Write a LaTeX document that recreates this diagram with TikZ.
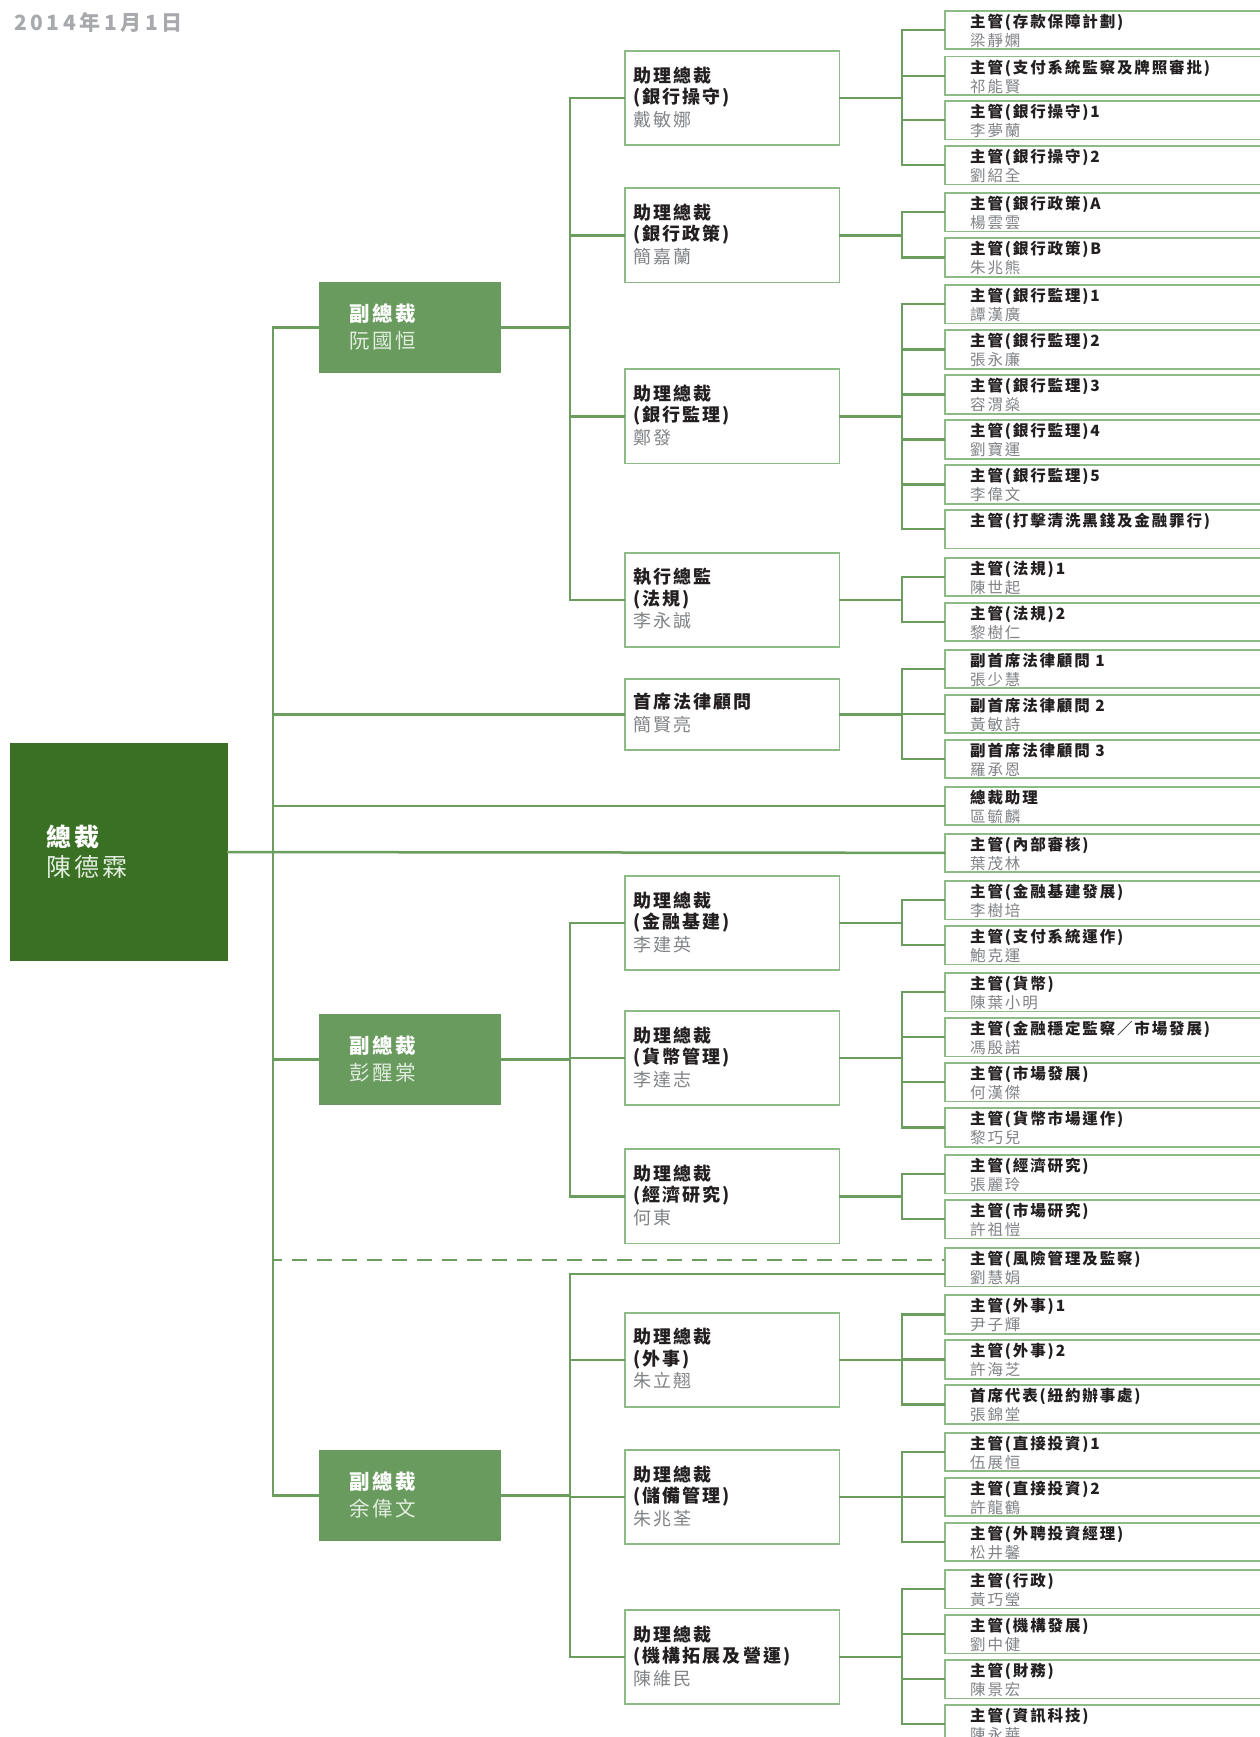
\documentclass[tikz,border=0pt]{standalone}
\usepackage{fontspec}
\setmainfont{Noto Sans CJK TC}[LetterSpace=12]
\newfontfamily\datefont{Noto Sans CJK TC}[LetterSpace=17]
\usetikzlibrary{calc}
\definecolor{lnc}{HTML}{6A9D5E}
\definecolor{bxc}{HTML}{8DBB85}
\definecolor{vpc}{HTML}{699B5F}
\definecolor{prc}{HTML}{3A7023}
\definecolor{tc}{HTML}{231F20}
\definecolor{nc}{HTML}{808285}
\definecolor{dc}{HTML}{A7A9AC}
\definecolor{vpnc}{HTML}{E3EDE0}
\newcommand{\FS}[1]{\fontsize{#1}{#1}\selectfont}
\tikzset{
  conn/.style={draw=lnc, line width=2.5pt, line cap=rect},
  dconn/.style={draw=lnc, line width=2.5pt, line cap=butt, dash pattern=on 15pt off 10pt, dash phase=6.3pt},
  rbox/.style={draw=bxc, line width=1.8pt, anchor=north west, minimum width=420pt, minimum height=38.5pt, inner sep=0pt},
  apbox/.style={draw=bxc, line width=1.8pt, anchor=north west, minimum width=214.6pt, inner sep=0pt},
  vpbox/.style={fill=vpc, anchor=north west, minimum width=182pt, minimum height=90.7pt, inner sep=0pt},
  prbox/.style={fill=prc, anchor=north west, minimum width=218.4pt, minimum height=217.7pt, inner sep=0pt},
  rt/.style={anchor=base west, inner sep=0pt, text=tc, font=\bfseries\FS{15.5}},
  rn/.style={anchor=base west, inner sep=0pt, text=nc, font=\FS{15.5}},
  aptitle/.style={anchor=base west, inner sep=0pt, text=tc, font=\bfseries\FS{18}},
  apname/.style={anchor=base west, inner sep=0pt, text=nc, font=\FS{18}},
  vptitle/.style={anchor=base west, inner sep=0pt, text=white, font=\bfseries\FS{20.5}},
  vpname/.style={anchor=base west, inner sep=0pt, text=vpnc, font=\FS{20.5}},
  prtitle/.style={anchor=base west, inner sep=0pt, text=white, font=\bfseries\FS{25}},
  prname/.style={anchor=base west, inner sep=0pt, text=vpnc, font=\FS{25}},
  datestyle/.style={anchor=base west, inner sep=0pt, text=dc, font=\datefont\bfseries\FS{21}},
}
\newcommand{\RB}[4]{%
  \node[rbox] (#1) at (944,#2) {};
  \node[rt] (#1t) at ($(#1.north west)+(26,17.5)$) {#3};
  \node[rn] (#1n) at ($(#1.north west)+(26,36.5)$) {#4};}
\newcommand{\AP}[5]{%
  \node[apbox, minimum height=94.3pt] (#1) at (624,#2) {};
  \node[aptitle] (#1a) at ($(#1.north west)+(8.8,32)$) {#3};
  \node[aptitle] (#1b) at ($(#1.north west)+(8.8,53.5)$) {#4};
  \node[apname] (#1c) at ($(#1.north west)+(8.8,76)$) {#5};}
\newcommand{\VP}[3]{%
  \node[vpbox] (#1) at (319,#2) {};
  \node[vptitle] (#1a) at ($(#1.north west)+(30,39.5)$) {副總裁};
  \node[vpname] (#1b) at ($(#1.north west)+(30,66)$) {#3};}
\begin{document}
\begin{tikzpicture}[x=1pt,y=-1pt]
\useasboundingbox (0,0) rectangle (1260,1737);
\clip (0,0) rectangle (1260,1737);
\coordinate (tx) at (902,0);
\coordinate (vx) at (570,0);
\coordinate (mx) at (273,0);

\node[datestyle] (date) at (14,30.5) {2014年1月1日};

% president
\node[prbox] (pr) at (9.6,743) {};
\node[prtitle] (pra) at ($(pr.north west)+(37,103)$) {總裁};
\node[prname] (prb) at ($(pr.north west)+(37,133.4)$) {陳德霖};

% vice presidents
\VP{v1}{282}{阮國恒}
\VP{v2}{1014}{彭醒棠}
\VP{v3}{1450}{余偉文}

% second level
\AP{a1}{50}{助理總裁}{(銀行操守)}{戴敏娜}
\AP{a2}{187.3}{助理總裁}{(銀行政策)}{簡嘉蘭}
\AP{a3}{368.3}{助理總裁}{(銀行監理)}{鄭發}
\AP{a4}{551.7}{執行總監}{(法規)}{李永誠}
\node[apbox, minimum height=71.3pt] (a5) at (624,677.7) {};
\node[aptitle] (a5a) at ($(a5.north west)+(8.8,30.5)$) {首席法律顧問};
\node[apname] (a5c) at ($(a5.north west)+(8.8,54)$) {簡賢亮};
\AP{a6}{875}{助理總裁}{(金融基建)}{李建英}
\AP{a7}{1010}{助理總裁}{(貨幣管理)}{李達志}
\AP{a8}{1148.3}{助理總裁}{(經濟研究)}{何東}
\AP{a9}{1311.7}{助理總裁}{(外事)}{朱立翹}
\AP{a10}{1449}{助理總裁}{(儲備管理)}{朱兆荃}
\AP{a11}{1609}{助理總裁}{(機構拓展及營運)}{陳維民}

% right column
\RB{r1}{10}{主管(存款保障計劃)}{梁靜嫻}
\RB{r2}{55.7}{主管(支付系統監察及牌照審批)}{祁能賢}
\RB{r3}{100}{主管(銀行操守)1}{李夢蘭}
\RB{r4}{145}{主管(銀行操守)2}{劉紹全}
\RB{r5}{192}{主管(銀行政策)A}{楊雲雲}
\RB{r6}{237.3}{主管(銀行政策)B}{朱兆熊}
\RB{r7}{284}{主管(銀行監理)1}{譚漢廣}
\RB{r8}{329.3}{主管(銀行監理)2}{張永廉}
\RB{r9}{374.3}{主管(銀行監理)3}{容渭燊}
\RB{r10}{419.3}{主管(銀行監理)4}{劉寶運}
\RB{r11}{464.3}{主管(銀行監理)5}{李偉文}
\RB{r12}{509}{主管(打擊清洗黑錢及金融罪行)}{}
\RB{r13}{556.7}{主管(法規)1}{陳世起}
\RB{r14}{601.7}{主管(法規)2}{黎樹仁}
\RB{r15}{648.7}{副首席法律顧問 1}{張少慧}
\RB{r16}{693.7}{副首席法律顧問 2}{黃敏詩}
\RB{r17}{738.7}{副首席法律顧問 3}{羅承恩}
\RB{r18}{785.7}{總裁助理}{區毓麟}
\RB{r19}{832.7}{主管(內部審核)}{葉茂林}
\RB{r20}{880}{主管(金融基建發展)}{李樹培}
\RB{r21}{925}{主管(支付系統運作)}{鮑克運}
\RB{r22}{972}{主管(貨幣)}{陳葉小明}
\RB{r23}{1017}{主管(金融穩定監察／市場發展)}{馮殷諾}
\RB{r24}{1062}{主管(市場發展)}{何漢傑}
\RB{r25}{1107.3}{主管(貨幣市場運作)}{黎巧兒}
\RB{r26}{1154}{主管(經濟研究)}{張麗玲}
\RB{r27}{1199}{主管(市場研究)}{許祖愷}
\RB{r28}{1247}{主管(風險管理及監察)}{劉慧娟}
\RB{r29}{1294.3}{主管(外事)1}{尹子輝}
\RB{r30}{1339.3}{主管(外事)2}{許海芝}
\RB{r31}{1384.3}{首席代表(紐約辦事處)}{張錦堂}
\RB{r32}{1431.7}{主管(直接投資)1}{伍展恒}
\RB{r33}{1476.7}{主管(直接投資)2}{許龍鶴}
\RB{r34}{1521.7}{主管(外聘投資經理)}{松井馨}
\RB{r35}{1569}{主管(行政)}{黃巧瑩}
\RB{r36}{1614}{主管(機構發展)}{劉中健}
\RB{r37}{1659}{主管(財務)}{陳景宏}
\RB{r38}{1704}{主管(資訊科技)}{陳永華}

% main trunk
\draw[conn] (v1.west) -- (v1.west -| mx) -- (v3.west -| mx) -- (v3.west);
\draw[conn] (v2.west) -- (v2.west -| mx);
\draw[conn] (pr.east) -- (r19.west);
\draw[conn] (r18.west) -- (r18.west -| mx);
\draw[conn] (a5.west) -- (a5.west -| mx);
\coordinate (r28d) at ($(r28.north west)+(0,13)$);
\coordinate (r28s) at ($(r28.north west)+(0,27)$);
\draw[dconn] (r28d -| mx) -- (r28d);

% VP1
\draw[conn] (a1.west) -- (a1.west -| vx) -- (a4.west -| vx) -- (a4.west);
\draw[conn] (a2.west) -- (a2.west -| vx);
\draw[conn] (a3.west) -- (a3.west -| vx);
\draw[conn] (v1.east) -- (v1.east -| vx);
% VP2
\draw[conn] (a6.west) -- (a6.west -| vx) -- (a8.west -| vx) -- (a8.west);
\draw[conn] (a7.west) -- (a7.west -| vx);
\draw[conn] (v2.east) -- (v2.east -| vx);
% VP3
\draw[conn] (r28s) -- (r28s -| vx) -- (a11.west -| vx) -- (a11.west);
\draw[conn] (a9.west) -- (a9.west -| vx);
\draw[conn] (a10.west) -- (a10.west -| vx);
\draw[conn] (v3.east) -- (v3.east -| vx);

% second level to right column
\draw[conn] (r1.west) -- (r1.west -| tx) -- (r4.west -| tx) -- (r4.west);
\draw[conn] (r2.west) -- (r2.west -| tx);
\draw[conn] (r3.west) -- (r3.west -| tx);
\draw[conn] (a1.east) -- (a1.east -| tx);

\draw[conn] (r5.west) -- (r5.west -| tx) -- (r6.west -| tx) -- (r6.west);
\draw[conn] (a2.east) -- (a2.east -| tx);

\draw[conn] (r7.west) -- (r7.west -| tx) -- (r12.west -| tx) -- (r12.west);
\foreach \k in {8,9,10,11} \draw[conn] (r\k.west) -- (r\k.west -| tx);
\draw[conn] (a3.east) -- (a3.east -| tx);

\draw[conn] (r13.west) -- (r13.west -| tx) -- (r14.west -| tx) -- (r14.west);
\draw[conn] (a4.east) -- (a4.east -| tx);

\draw[conn] (r15.west) -- (r15.west -| tx) -- (r17.west -| tx) -- (r17.west);
\draw[conn] (r16.west) -- (r16.west -| tx);
\draw[conn] (a5.east) -- (a5.east -| tx);

\draw[conn] (r20.west) -- (r20.west -| tx) -- (r21.west -| tx) -- (r21.west);
\draw[conn] (a6.east) -- (a6.east -| tx);

\draw[conn] (r22.west) -- (r22.west -| tx) -- (r25.west -| tx) -- (r25.west);
\draw[conn] (r23.west) -- (r23.west -| tx);
\draw[conn] (r24.west) -- (r24.west -| tx);
\draw[conn] (a7.east) -- (a7.east -| tx);

\draw[conn] (r26.west) -- (r26.west -| tx) -- (r27.west -| tx) -- (r27.west);
\draw[conn] (a8.east) -- (a8.east -| tx);

\draw[conn] (r29.west) -- (r29.west -| tx) -- (r31.west -| tx) -- (r31.west);
\draw[conn] (r30.west) -- (r30.west -| tx);
\draw[conn] (a9.east) -- (a9.east -| tx);

\draw[conn] (r32.west) -- (r32.west -| tx) -- (r34.west -| tx) -- (r34.west);
\draw[conn] (r33.west) -- (r33.west -| tx);
\draw[conn] (a10.east) -- (a10.east -| tx);

\draw[conn] (r35.west) -- (r35.west -| tx) -- (r38.west -| tx) -- (r38.west);
\draw[conn] (r36.west) -- (r36.west -| tx);
\draw[conn] (r37.west) -- (r37.west -| tx);
\draw[conn] (a11.east) -- (a11.east -| tx);
\end{tikzpicture}
\end{document}
